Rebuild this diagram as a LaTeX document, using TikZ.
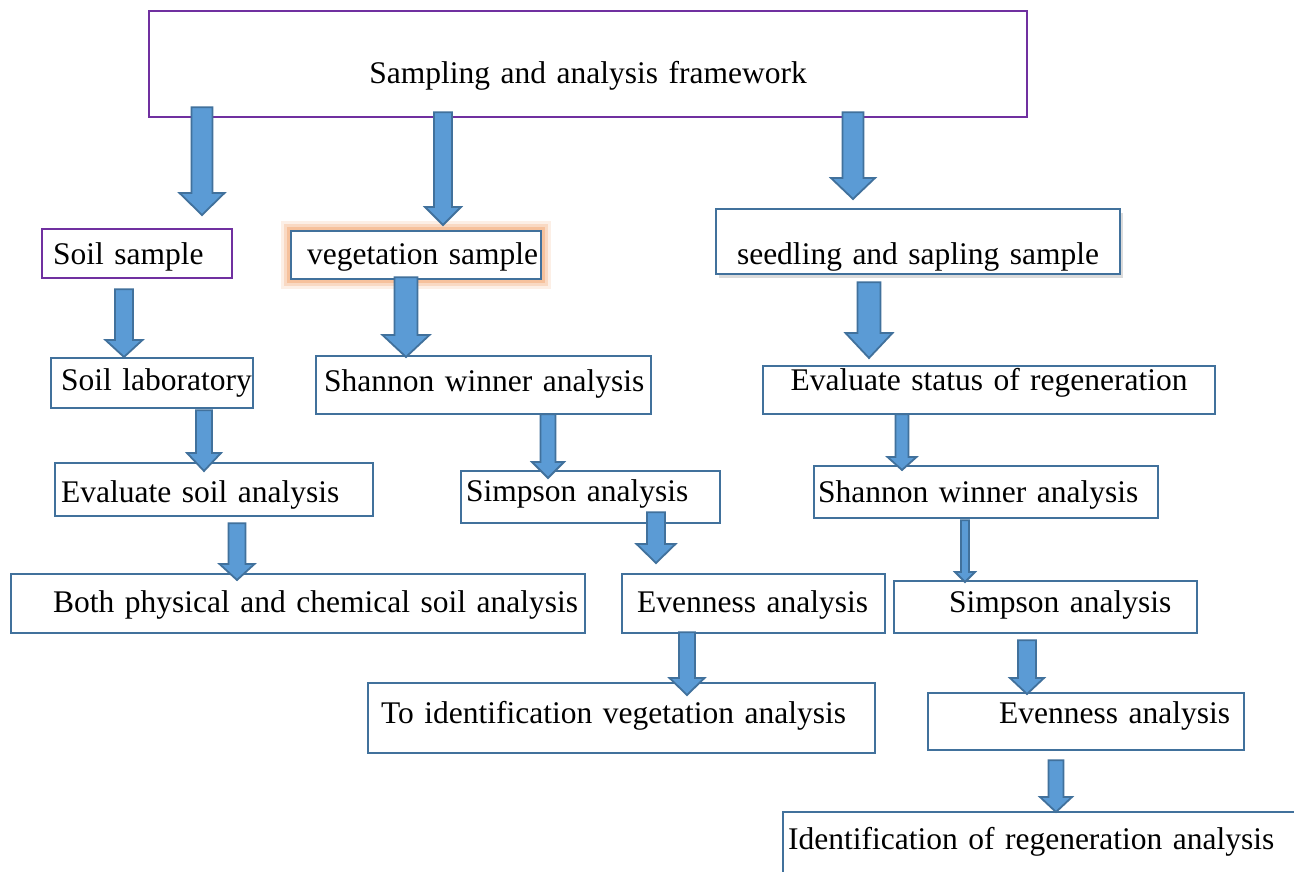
\documentclass[tikz,border=0pt]{standalone}
\usepackage{fontspec}
\setmainfont[WordSpace=0.9]{Liberation Serif}
\usetikzlibrary{calc,shadows}
\definecolor{arrowfill}{HTML}{5B9BD5}
\definecolor{arrowline}{HTML}{41719C}
\definecolor{boxblue}{HTML}{41719C}
\definecolor{boxpurple}{HTML}{7030A0}
\definecolor{glow}{HTML}{F4B183}
\newcommand\lift[2]{\raisebox{#1pt}[\height][\depth]{#2}}
\tikzset{
  box/.style={draw=boxblue, line width=2.2pt, fill=white, anchor=north west, inner ysep=0pt,
    align=left, text height=22pt, text depth=7pt, font=\fontsize{31.5}{38}\selectfont},
  cbox/.style={box, align=center, inner xsep=0pt},
  barrow/.style n args={3}{fill=arrowfill, draw=arrowline, line width=1.8pt,
    to path={let \p1=(\tikztostart), \p2=(\tikztotarget) in
      (\x1-#1*0.5pt,\y1) -- (\x1-#1*0.5pt,\y2+#3*1pt) -- (\x1-#2*0.5pt,\y2+#3*1pt) -- (\x2,\y2)
      -- (\x1+#2*0.5pt,\y2+#3*1pt) -- (\x1+#1*0.5pt,\y2+#3*1pt) -- (\x1+#1*0.5pt,\y1) -- cycle}}
}
\begin{document}
\begin{tikzpicture}[x=1pt,y=-1pt]
			%%%%% START %%%%%
			\fill[white] (0,0) rectangle (1294,871);
			\clip (0,0) rectangle (1294,871);
			
			\node[cbox, draw=boxpurple, minimum width=878pt, minimum height=106pt, text width=878pt] (frame) at (148,10) {\lift{-11.5}{Sampling and analysis framework}};
			
			\node[box, draw=boxpurple, minimum width=190pt, minimum height=49pt, text width=168pt, inner xsep=11pt] (soil) at (41,228) {\lift{-3}{Soil sample}};
			\node[box, minimum width=250pt, minimum height=48pt, text width=218pt, inner xsep=16pt,
			  preaction={draw=glow, line width=20pt, opacity=0.2, rounded corners=7pt},
			  preaction={draw=glow, line width=14pt, opacity=0.35, rounded corners=4pt},
			  preaction={draw=glow, line width=8pt, opacity=0.6}] (veg) at (290,230) {\lift{-1.5}{vegetation sample}};
			\node[cbox, minimum width=404pt, minimum height=65pt, text width=404pt,
			  drop shadow={shadow xshift=3pt, shadow yshift=-4pt, opacity=0.35, fill=black!40}] (seed) at (715,208) {\lift{-15.5}{seedling and sapling sample}};
			
			\node[box, minimum width=202pt, minimum height=50pt, text width=182pt, inner xsep=10pt] (lab) at (50,357) {\lift{0.5}{Soil laboratory}};
			\node[box, minimum width=335pt, minimum height=58pt, text width=319pt, inner xsep=8pt] (shanveg) at (315,355) {\lift{1.5}{Shannon winner analysis}};
			\node[cbox, minimum width=452pt, minimum height=48pt, text width=452pt] (status) at (762,365) {\lift{7.5}{Evaluate status of regeneration}};
			
			\node[box, minimum width=318pt, minimum height=53pt, text width=306pt, inner xsep=6pt] (evsoil) at (54,462) {\lift{-5}{Evaluate soil analysis}};
			\node[box, minimum width=259pt, minimum height=52pt, text width=249pt, inner xsep=5pt] (simpveg) at (460,470) {\lift{3}{Simpson analysis}};
			\node[box, minimum width=344pt, minimum height=52pt, text width=336pt, inner xsep=4pt] (shanreg) at (813,465) {\lift{-2.5}{Shannon winner analysis}};
			
			\node[box, minimum width=574pt, minimum height=59pt, text width=490pt, inner xsep=42pt] (both) at (10,573) {\lift{-1}{Both physical and chemical soil analysis}};
			\node[box, minimum width=263pt, minimum height=59pt, text width=233pt, inner xsep=15pt] (evenveg) at (621,573) {\lift{-1}{Evenness analysis}};
			\node[box, minimum width=303pt, minimum height=52pt, text width=193pt, inner xsep=55pt] (simpreg) at (893,580) {\lift{2.5}{Simpson analysis}};
			
			\node[box, minimum width=507pt, minimum height=70pt, text width=481pt, inner xsep=13pt] (vegid) at (367,682) {\lift{2.5}{To identification vegetation analysis}};
			\node[box, minimum width=316pt, minimum height=57pt, text width=174pt, inner xsep=71pt] (evenreg) at (927,692) {\lift{6}{Evenness analysis}};
			\node[box, minimum width=578pt, minimum height=80pt, text width=568pt, inner xsep=5pt] (regid) at (782,811) {\lift{10.5}{Identification of regeneration analysis}};
			
			% block arrows
			\path[barrow={21}{45}{22}] ($(frame.south -| 202,0)+(0,-11)$) to ($(soil.north -| 202,0)+(0,-13)$);
			\path[barrow={18}{36}{18}] ($(frame.south -| 443,0)+(0,-6)$) to ($(veg.north -| 443,0)+(0,-5)$);
			\path[barrow={21}{44}{21}] ($(frame.south -| 853,0)+(0,-6)$) to ($(seed.north -| 853,0)+(0,-9)$);
			\path[barrow={23}{47}{25}] ($(seed.south -| 869,0)+(0,7)$) to ($(status.north -| 869,0)+(0,-7)$);
			\path[barrow={18}{37}{17}] ($(soil.south -| 124,0)+(0,10)$) to ($(lab.north -| 124,0)+(0,0)$);
			\path[barrow={23}{47}{22}] ($(veg.south -| 406,0)+(0,-3)$) to ($(shanveg.north -| 406,0)+(0,2)$);
			\path[barrow={16}{34}{18}] ($(lab.south -| 204,0)+(0,1)$) to ($(evsoil.north -| 204,0)+(0,9)$);
			\path[barrow={17}{35}{16}] ($(evsoil.south -| 237,0)+(0,6)$) to ($(both.north -| 237,0)+(0,7)$);
			\path[barrow={15}{32}{16}] ($(shanveg.south -| 548,0)+(0,-1)$) to ($(simpveg.north -| 548,0)+(0,8)$);
			\path[barrow={18}{39}{19}] ($(simpveg.south -| 656,0)+(0,-12)$) to ($(evenveg.north -| 656,0)+(0,-10)$);
			\path[barrow={16}{35}{17}] ($(evenveg.south -| 687,0)+(0,-2)$) to ($(vegid.north -| 687,0)+(0,13)$);
			\path[barrow={13}{29}{13}] ($(status.south -| 902,0)+(0,-1)$) to ($(shanreg.north -| 902,0)+(0,5)$);
			\path[barrow={8}{20}{10}] ($(shanreg.south -| 965,0)+(0,1)$) to ($(simpreg.north -| 965,0)+(0,2)$);
			\path[barrow={18}{34}{16}] ($(simpreg.south -| 1027,0)+(0,6)$) to ($(evenreg.north -| 1027,0)+(0,2)$);
			\path[barrow={15}{32}{15}] ($(evenreg.south -| 1056,0)+(0,9)$) to ($(regid.north -| 1056,0)+(0,1)$);
			%%%%% END %%%%%
\end{tikzpicture}
\end{document}
